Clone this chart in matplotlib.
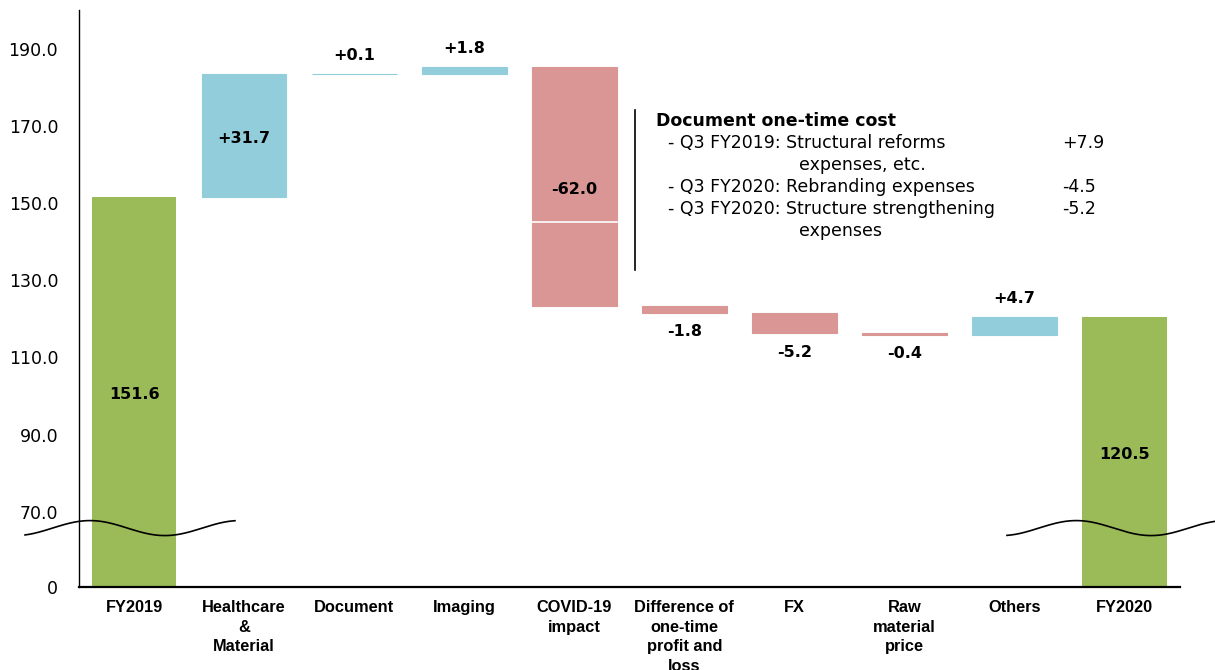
import numpy as np
import matplotlib
matplotlib.use('Agg')
import matplotlib.pyplot as plt

# Waterfall data (billion yen)
categories = ['FY2019', 'Healthcare\n&\nMaterial', 'Document', 'Imaging', 'COVID-19\nimpact',
              'Difference of\none-time\nprofit and\nloss', 'FX', 'Raw\nmaterial\nprice', 'Others', 'FY2020']
start_total = 151.6
changes = [31.7, 0.1, 1.8, -62.0, -1.8, -5.2, -0.4, 4.7]
end_total = 120.5
covid_split = 145.1  # white divider inside the COVID-19 bar

note_title = 'Document one-time cost'
note_lines = ['- Q3 FY2019: Structural reforms', 'expenses, etc.', '- Q3 FY2020: Rebranding expenses',
              '- Q3 FY2020: Structure strengthening', 'expenses']
note_values = ['+7.9', '', '-4.5', '-5.2', '']

yticks = [0, 70, 90, 110, 130, 150, 170, 190]

GREEN = '#9BBB59'
BLUE = '#92CDDC'
RED = '#D99694'

# broken axis: 0-70 squeezed into a short band
BREAK = 70.0
ZERO_POS = 50.5


def fwd(v):
    v = np.asarray(v, dtype=float)
    return np.where(v >= BREAK, v, ZERO_POS + v * (BREAK - ZERO_POS) / BREAK)


def inv(d):
    d = np.asarray(d, dtype=float)
    return np.where(d >= BREAK, d, (d - ZERO_POS) * BREAK / (BREAK - ZERO_POS))


fig, ax = plt.subplots(figsize=(12.15, 6.7), dpi=100)
plt.subplots_adjust(left=0.065, right=0.971, bottom=0.124, top=0.985)
ax.set_yscale('function', functions=(fwd, inv))

x = np.arange(len(categories))
width = 0.77

# totals
for xi, val in [(x[0], start_total), (x[-1], end_total)]:
    ax.bar(xi, val, width, bottom=0, color=GREEN)
    mid = float(inv((fwd(0) + fwd(val)) / 2))
    ax.annotate(f'{val:.1f}', (xi, mid), xytext=(0, -2), textcoords='offset points',
                ha='center', va='center', fontsize=11.5, fontweight='bold')

# steps
level = start_total
for i, ch in enumerate(changes):
    xi = x[i + 1]
    lo, hi = min(level, level + ch), max(level, level + ch)
    col = BLUE if ch > 0 else RED
    ax.bar(xi, hi - lo, width, bottom=lo, color=col, edgecolor=col, linewidth=0.8)
    txt = f'{ch:+.1f}'
    if hi - lo > 10:
        ax.annotate(txt, (xi, (lo + hi) / 2), xytext=(0, -2), textcoords='offset points',
                    ha='center', va='center', fontsize=11.5, fontweight='bold')
    elif ch > 0:
        ax.annotate(txt, (xi, hi), xytext=(0, 8), textcoords='offset points',
                    ha='center', va='bottom', fontsize=11.5, fontweight='bold')
    else:
        ax.annotate(txt, (xi, lo), xytext=(0, -8), textcoords='offset points',
                    ha='center', va='top', fontsize=11.5, fontweight='bold')
    if categories[i + 1].startswith('COVID'):
        ax.plot([xi - width / 2, xi + width / 2], [covid_split, covid_split], color='white', lw=1.2)
    level += ch

# note block
ax.plot([4.55, 4.55], [132.6, 174.1], color='black', lw=1.2)
ax.text(4.74, 171.2, note_title, ha='left', va='center', fontsize=12.5, fontweight='bold')
line_y = 165.5
for line, val in zip(note_lines, note_values):
    lx = 4.85 if line.startswith('-') else 6.04
    ax.text(lx, line_y, line, ha='left', va='center', fontsize=12.5)
    if val:
        ax.text(8.43, line_y, val, ha='left', va='center', fontsize=12.5)
    line_y -= 5.7

# wavy break marks
for x0, x1, xpk in [(-0.049, 0.1417, 0.01), (0.843, 1.032, 0.906)]:
    wx = np.linspace(x0, x1, 200)
    wy = 0.102 + 0.013 * np.cos(2 * np.pi * (wx - xpk) / 0.136)
    ax.plot(wx, wy, color='black', lw=1.2, transform=ax.transAxes, clip_on=False)

ax.set_xlim(-0.5, len(categories) - 0.5)
ax.set_ylim(0, 200)
ax.set_yticks(yticks)
ax.set_yticklabels(['0'] + [f'{t:.1f}' for t in yticks[1:]])
ax.yaxis.set_minor_locator(matplotlib.ticker.NullLocator())
ax.tick_params(axis='y', length=0, pad=15, labelsize=12.5)
ax.set_xticks(x)
ax.set_xticklabels(categories, fontfamily='Liberation Sans', fontweight='bold', fontsize=11.8,
                   linespacing=1.38, va='top')
ax.tick_params(axis='x', length=0, pad=9.5)

for s in ['top', 'right']:
    ax.spines[s].set_visible(False)
ax.spines['left'].set_linewidth(1.0)
ax.spines['bottom'].set_linewidth(1.6)

fig.savefig('out.png', dpi=100)
